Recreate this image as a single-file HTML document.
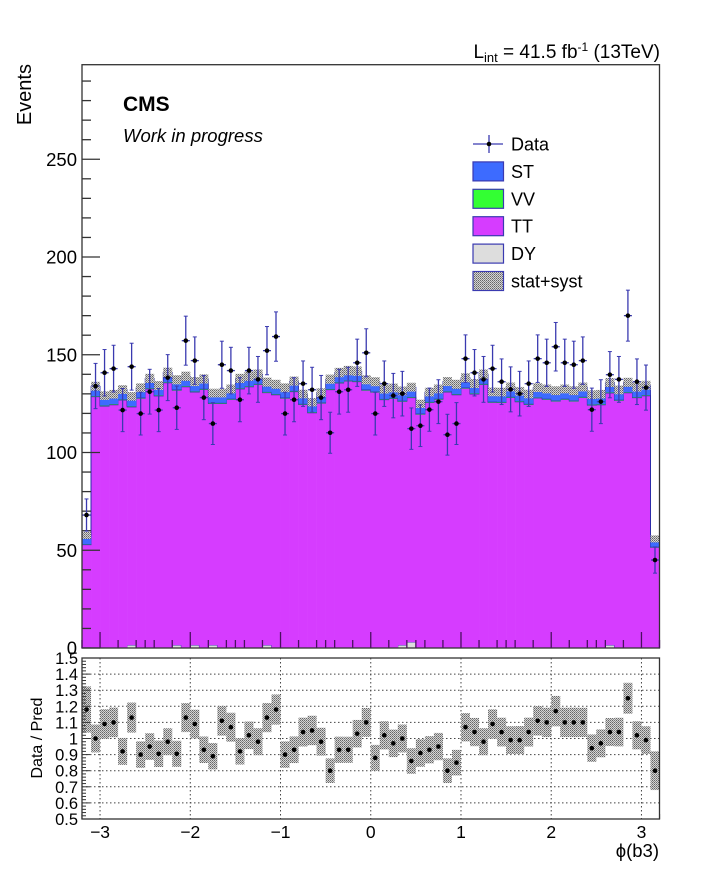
<!DOCTYPE html>
<html><head><meta charset="utf-8"><style>
html,body{margin:0;padding:0;background:#fff}
svg{display:block;font-family:"Liberation Sans",Arial,sans-serif}
</style></head><body>
<svg id="c" width="718" height="875" viewBox="0 0 718 875">
<defs>
<pattern id="hatch" width="2" height="2" patternUnits="userSpaceOnUse">
<rect width="2" height="2" fill="#d4d4d4"/><rect width="1" height="1" fill="#666"/><rect x="1" y="1" width="1" height="1" fill="#888"/>
</pattern>
</defs>
</svg>
<script>
const binLo = -3.2, binW = 0.1;
const dataVals = [68,134,140.8,142.9,121.7,143.9,119.9,131.1,121.7,138.3,122.9,157.2,147,128.1,114.8,144.9,141.9,127,141.9,137.4,152.1,159.3,119.9,127,135.2,132.1,128.1,110.1,131.1,132.1,145.9,151,119.9,135.2,129.1,130.1,112.2,113.7,121.9,126,109.1,114.8,148,140.8,137.4,142.9,136.2,132.3,130.1,135.2,148,145.9,154.1,145.9,144.9,147,121.9,126,139.8,137.4,170,136.2,133.2,45];
const ttVals = [52.5,128.5,123.7,124.4,126.8,121.8,127.7,132.5,128.9,135.6,130.3,133.6,129.4,132.2,123.5,125,127.1,132.5,133.6,134.7,129.1,129.5,127.7,131.1,124.5,120.3,125.2,132.1,135.5,136.5,136.2,131.8,130.8,127,127.6,124.6,125,119.5,125.5,127.1,130.9,129.5,132.8,129.9,134.7,125.6,125.5,128.1,125.9,124.5,127.8,127.1,126.2,127.1,126.2,128.1,124.2,124.4,128.9,126.6,130.5,128,129,51.5];
const stVals = [4.5,5,5,5,5,5,5,5,5,5,5,5,5,5,5,5,5,5,5,5,5,5,5,5,5,5,5,5,5,5,5,5,5,5,5,5,5,5,5,5,5,5,5,5,5,5,5,5,5,5,5,5,5,5,5,5,5,5,5,5,5,5,5,4];
const vvVals = [0.3,0.4,0.4,0.4,0.4,0.4,0.4,0.4,0.4,0.4,0.4,0.4,0.4,0.4,0.4,0.4,0.4,0.4,0.4,0.4,0.4,0.4,0.4,0.4,0.4,0.4,0.4,0.4,0.4,0.4,0.4,0.4,0.4,0.4,0.4,0.4,0.4,0.4,0.4,0.4,0.4,0.4,0.4,0.4,0.4,0.4,0.4,0.4,0.4,0.4,0.4,0.4,0.4,0.4,0.4,0.4,0.4,0.4,0.4,0.4,0.4,0.4,0.4,0.3];
const dyVals = [0.3,0,0,0,0,1.5,0,0,0,0,1.5,0,1.5,0,1.5,0,0,0,0,0,1.5,0,0,0,0,0,0,0,0,0,0,0,0,0,0,1.5,3,0,0,0,0,0,0,0,0,0,0,0,0,0,0,0,0,0,0,0,0,0,1.5,0,0,0,0,0];
const ratioVals = [1.18,1.0,1.09,1.10,0.92,1.13,0.90,0.95,0.905,0.98,0.905,1.13,1.09,0.93,0.89,1.11,1.07,0.92,1.02,0.98,1.13,1.18,0.90,0.93,1.04,1.05,0.98,0.80,0.93,0.93,1.03,1.10,0.88,1.02,0.97,1.0,0.86,0.91,0.93,0.95,0.80,0.85,1.07,1.04,0.98,1.09,1.04,0.99,0.99,1.04,1.11,1.10,1.17,1.10,1.10,1.10,0.94,0.97,1.04,1.04,1.25,1.02,0.99,0.80];
const yTicksMain = [0,50,100,150,200,250];
const xTicks = [-3,-2,-1,0,1,2,3];
const rTicks = [0.5,0.6,0.7,0.8,0.9,1,1.1,1.2,1.3,1.4,1.5];
const rTickLabels = ["0.5","0.6","0.7","0.8","0.9","1","1.1","1.2","1.3","1.4","1.5"];

const NS="http://www.w3.org/2000/svg";
const svg=document.getElementById('c');
function mk(tag,attrs,parent){const e=document.createElementNS(NS,tag);for(const k in attrs)e.setAttribute(k,attrs[k]);(parent||svg).appendChild(e);return e;}
const L=82,R=659.5,T=64.7,B=648,RT=658,RB=819;
const X=v=>L+(v-binLo)/(6.4)*(R-L);
const Y=v=>B-v*1.955;
const YR=v=>RB-(v-0.5)*(RB-RT);
const n=dataVals.length;

const gStack=mk('g',{});


const layers=[[dyVals,'#dddddd','dy'],[ttVals,'#d63cff','tt'],[vvVals,'#33ff33','vv'],[stVals,'#3d6bff','st']];
const cum=new Array(n).fill(0);
for(const [arr,col,nm] of layers){
  let d='';
  for(let i=0;i<n;i++){
    const lo=cum[i],hi=cum[i]+arr[i];
    if(arr[i]>0){
      const r=mk('rect',{x:X(binLo+i*binW),y:Y(hi),width:X(binLo+(i+1)*binW)-X(binLo+i*binW)+0.3,height:Y(lo)-Y(hi),fill:col},gStack);
      
      
    }
    d+=(i===0?'M':'L')+X(binLo+i*binW)+' '+Y(hi)+' L'+X(binLo+(i+1)*binW)+' '+Y(hi)+' ';
    cum[i]=hi;
  }
  const p=mk('path',{d:d,fill:'none',stroke:'#2b2ba8','stroke-width':0.8},gStack);
  
  
}
for(let i=0;i<n;i++){
  const e=Math.max(1.8,cum[i]*0.017);
  const r=mk('rect',{x:X(binLo+i*binW),y:Y(cum[i]+e),width:X(binLo+(i+1)*binW)-X(binLo+i*binW),height:Y(cum[i]-e)-Y(cum[i]+e),fill:'url(#hatch)'});
  
  
}
mk('rect',{x:L,y:T,width:R-L,height:B-T,fill:'none',stroke:'#333','stroke-width':1.3});
for(let v=0;v<=290;v+=10){
  const maj=v%50===0;
  mk('line',{x1:L,x2:L+(maj?18:9),y1:Y(v),y2:Y(v),stroke:'#333','stroke-width':1.3});
}
for(const v of yTicksMain){
  const t=mk('text',{x:77,y:Y(v)+6.5,'text-anchor':'end','font-size':18.5,fill:'#000'});t.textContent=v;
  
  
}
for(let k=-32;k<=32;k++){
  const v=k/10; if(v<-3.2||v>3.2)continue;
  const maj=k%10===0, mid=k%5===0;
  const len=maj?16:8;
  if(k%2!==0&&!maj&&!mid)continue;
  mk('line',{x1:X(v),x2:X(v),y1:B,y2:B-len,stroke:'#4a1060','stroke-width':1.3});
  mk('line',{x1:X(v),x2:X(v),y1:RB,y2:RB-(maj?10:5),stroke:'#333','stroke-width':1.2});
}
const gData=mk('g',{});


for(let i=0;i<n;i++){
  const cx=X(binLo+(i+0.5)*binW),v=dataVals[i],e=Math.sqrt(v);
  const x0=X(binLo+i*binW)+0.5,x1=X(binLo+(i+1)*binW)-0.5;
  mk('line',{x1:cx,x2:cx,y1:Y(v+e),y2:Y(v-e),stroke:'#3a3ab0','stroke-width':1.3},gData);
  mk('line',{x1:x0,x2:x1,y1:Y(v),y2:Y(v),stroke:'#3a3ab0','stroke-width':1.3},gData);
  mk('line',{x1:cx-2,x2:cx+2,y1:Y(v+e),y2:Y(v+e),stroke:'#3a3ab0','stroke-width':1},gData);
  mk('line',{x1:cx-2,x2:cx+2,y1:Y(v-e),y2:Y(v-e),stroke:'#3a3ab0','stroke-width':1},gData);
  const c=mk('circle',{cx:cx,cy:Y(v),r:2.3,fill:'#000'},gData);
  
  
}
mk('rect',{x:L,y:RT,width:R-L,height:RB-RT,fill:'#fff',stroke:'none'});
for(let i=1;i<rTicks.length-1;i++) mk('line',{x1:L,x2:R,y1:YR(rTicks[i]),y2:YR(rTicks[i]),stroke:'#444','stroke-width':1,'stroke-dasharray':'1.5,2.5'});
for(const v of xTicks) mk('line',{x1:X(v),x2:X(v),y1:RT,y2:RB,stroke:'#444','stroke-width':1,'stroke-dasharray':'1.5,2.5'});
const gR=mk('g',{});


for(let i=0;i<n;i++){
  const mc=cum[i],r=ratioVals[i],e=Math.sqrt(dataVals[i])/mc;
  const x0=X(binLo+i*binW),x1=X(binLo+(i+1)*binW);
  mk('rect',{x:x0,y:YR(Math.min(1.5,r+e)),width:x1-x0,height:YR(r-e)-YR(Math.min(1.5,r+e)),fill:'url(#hatch)'},gR);
  const c=mk('circle',{cx:(x0+x1)/2,cy:YR(r),r:2.3,fill:'#000'},gR);
  
  
}
mk('rect',{x:L,y:RT,width:R-L,height:RB-RT,fill:'none',stroke:'#333','stroke-width':1.3});
for(let v=0.5;v<=1.501;v+=0.02){
  const maj=Math.abs(v*10-Math.round(v*10))<0.01;
  mk('line',{x1:L,x2:L+(maj?8:4),y1:YR(v),y2:YR(v),stroke:'#333','stroke-width':1});
}
for(let i=0;i<rTicks.length;i++){
  const t=mk('text',{x:78,y:YR(rTicks[i])+6,'text-anchor':'end','font-size':16.5,fill:'#000'});t.textContent=rTickLabels[i];
  
  
}
for(const v of xTicks){
  const t=mk('text',{x:X(v),y:838,'text-anchor':'middle','font-size':17.5,fill:'#000'});t.textContent=(v<0?'\u2212'+(-v):v);
  
  
}
</script>
<script>
(function(){
const svg=document.getElementById('c');
function add(html){svg.insertAdjacentHTML('beforeend',html);}
add('<text x="0" y="0" transform="translate(31,64) rotate(-90)" text-anchor="end" font-size="20">Events</text>');
add('<text x="0" y="0" transform="translate(42,738) rotate(-90)" text-anchor="middle" font-size="16">Data / Pred</text>');
add('<text x="659" y="857" text-anchor="end" font-size="18.5">&#981;(b3)</text>');
add('<text x="123" y="111" font-size="21" font-weight="bold">CMS</text>');
add('<text x="123" y="142" font-size="18.5" font-style="italic">Work in progress</text>');
add('<text x="660" y="58" text-anchor="end" font-size="19">L<tspan font-size="13" dy="4">int</tspan><tspan dy="-4"> = 41.5 fb</tspan><tspan font-size="12" dy="-7">-1</tspan><tspan dy="7"> (13TeV)</tspan></text>');
const items=[['Data',null],['ST','#3d6bff'],['VV','#33ff33'],['TT','#d63cff'],['DY','#dddddd'],['stat+syst','url(#hatch)']];
items.forEach((it,i)=>{
  const cy=144+i*27.4;
  let g='<g>';
  if(it[1]===null){g+='<line x1="473" x2="503" y1="'+cy+'" y2="'+cy+'" stroke="#3a3ab0" stroke-width="1.3"/><line x1="489" x2="489" y1="'+(cy-9)+'" y2="'+(cy+9)+'" stroke="#3a3ab0" stroke-width="1.3"/><circle cx="489" cy="'+cy+'" r="2.3" fill="#000"/>';}
  else g+='<rect x="473" y="'+(cy-9.5)+'" width="30.5" height="19" fill="'+it[1]+'" stroke="#3a3ab0" stroke-width="1.2"/>';
  g+='<text x="511" y="'+(cy+6.5)+'" font-size="18">'+it[0]+'</text></g>';
  add(g);
});
})();
</script>
</body></html>
